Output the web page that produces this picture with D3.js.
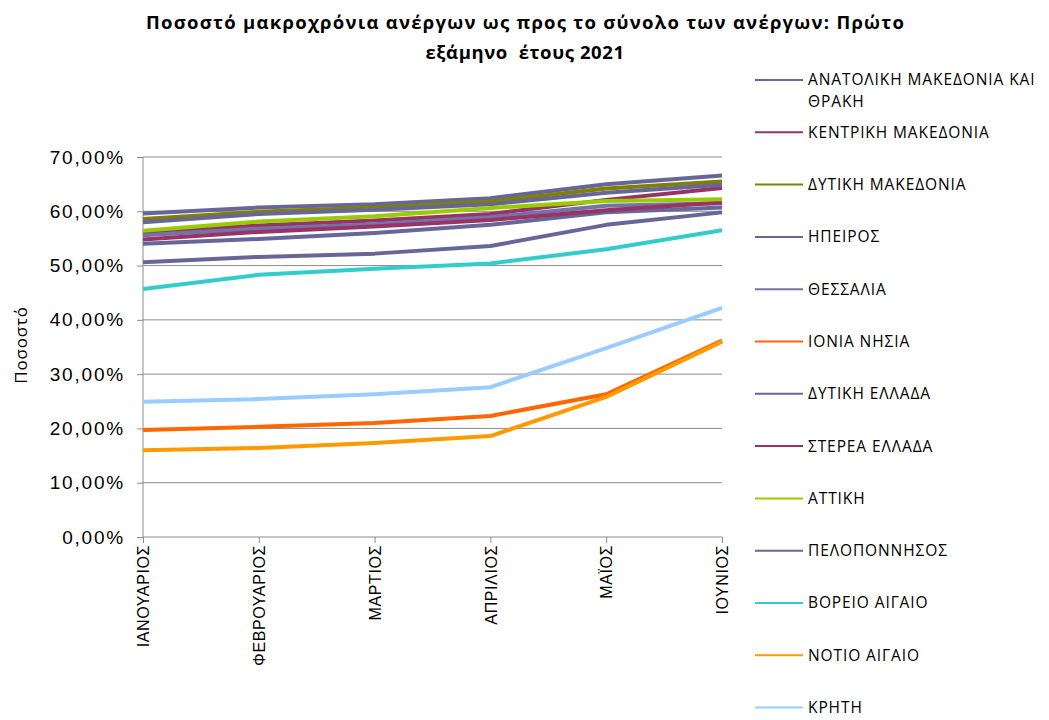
<!DOCTYPE html>
<html>
<head>
<meta charset="utf-8">
<script src="https://cdn.jsdelivr.net/npm/d3@7"></script>
<style>
  body { margin: 0; background: #fff; }
  svg { display: block; font-family: "Open Sans", "Noto Sans", sans-serif; }
</style>
</head>
<body>
<div id="chart"></div>
<script>
// Months (x categories)
const months = ["ΙΑΝΟΥΑΡΙΟΣ", "ΦΕΒΡΟΥΑΡΙΟΣ", "ΜΑΡΤΙΟΣ", "ΑΠΡΙΛΙΟΣ", "ΜΑΪΟΣ", "ΙΟΥΝΙΟΣ"];

// Regions, in legend order
const regions = [
  "ΑΝΑΤΟΛΙΚΗ ΜΑΚΕΔΟΝΙΑ ΚΑΙ ΘΡΑΚΗ", "ΚΕΝΤΡΙΚΗ ΜΑΚΕΔΟΝΙΑ", "ΔΥΤΙΚΗ ΜΑΚΕΔΟΝΙΑ",
  "ΗΠΕΙΡΟΣ", "ΘΕΣΣΑΛΙΑ", "ΙΟΝΙΑ ΝΗΣΙΑ", "ΔΥΤΙΚΗ ΕΛΛΑΔΑ", "ΣΤΕΡΕΑ ΕΛΛΑΔΑ",
  "ΑΤΤΙΚΗ", "ΠΕΛΟΠΟΝΝΗΣΟΣ", "ΒΟΡΕΙΟ ΑΙΓΑΙΟ", "ΝΟΤΙΟ ΑΙΓΑΙΟ", "ΚΡΗΤΗ"
];

// Percent values per region, Jan..Jun
const anatMakThraki = [59.6, 60.7, 61.3, 62.4, 65.0, 66.6];
const kentrikiMak   = [56.0, 57.4, 58.3, 59.5, 62.1, 64.3];
const dytikiMak     = [58.6, 59.9, 60.7, 61.8, 64.2, 65.5];
const ipeiros       = [58.0, 59.5, 60.3, 61.3, 63.4, 64.9];
const thessalia     = [55.6, 56.8, 57.6, 58.9, 61.0, 61.5];
const ioniaNisia    = [19.7, 20.3, 21.0, 22.3, 26.3, 36.2];
const dytikiEllada  = [54.0, 54.9, 56.0, 57.5, 59.8, 60.7];
const stereaEllada  = [54.8, 56.2, 57.2, 58.4, 60.2, 61.6];
const attiki        = [56.4, 58.1, 59.1, 60.6, 61.9, 62.2];
const peloponnisos  = [50.6, 51.6, 52.2, 53.6, 57.5, 59.8];
const voreioAigaio  = [45.7, 48.3, 49.4, 50.4, 53.0, 56.5];
const notioAigaio   = [16.0, 16.4, 17.3, 18.6, 25.8, 36.0];
const kriti         = [24.9, 25.4, 26.3, 27.6, 34.8, 42.2];

const seriesValues = [
  anatMakThraki, kentrikiMak, dytikiMak, ipeiros, thessalia, ioniaNisia,
  dytikiEllada, stereaEllada, attiki, peloponnisos, voreioAigaio, notioAigaio, kriti
];

const colors = [
  "#666699", "#993366", "#808000", "#666699", "#7373a8", "#ff6600",
  "#666699", "#993366", "#99cc00", "#666699", "#33cccc", "#ff9900", "#99ccff"
];

const yTicks = [0, 10, 20, 30, 40, 50, 60, 70];

const width = 1049, height = 720;
const plot = { left: 143, right: 722, top: 157, bottom: 537 };

const svg = d3.select("#chart").append("svg")
  .attr("width", width)
  .attr("height", height);

// Title
svg.append("text")
  .attr("x", 525).attr("y", 29)
  .attr("text-anchor", "middle")
  .attr("textLength", 758).attr("lengthAdjust", "spacing")
  .style("font-size", "18.5px").style("font-weight", "bold")
  .text("Ποσοστό μακροχρόνια ανέργων ως προς το σύνολο των ανέργων: Πρώτο");
svg.append("text")
  .attr("x", 525).attr("y", 59)
  .attr("text-anchor", "middle")
  .style("font-size", "18.5px").style("font-weight", "bold")
  .style("letter-spacing", "0.6px")
  .style("white-space", "pre")
  .text("εξάμηνο  έτους 2021");

// Scales
const x = d3.scalePoint().domain(months).range([plot.left, plot.right]);
const y = d3.scaleLinear().domain([0, 70]).range([plot.bottom, plot.top]);

// Gridlines
svg.append("g")
  .selectAll("line")
  .data(yTicks.filter(d => d > 0))
  .join("line")
  .attr("x1", plot.left).attr("x2", plot.right)
  .attr("y1", d => y(d)).attr("y2", d => y(d))
  .attr("stroke", "#8c8c8c").attr("stroke-width", 1);

// Y axis
const yAxis = svg.append("g")
  .attr("transform", `translate(${plot.left},0)`)
  .call(d3.axisLeft(y).tickValues(yTicks).tickSize(6).tickPadding(12)
    .tickFormat(d => d3.format(".2f")(d).replace(".", ",") + "%"));
yAxis.select(".domain").attr("stroke", "#8c8c8c").attr("d", `M0,${plot.top}V${plot.bottom}`);
yAxis.selectAll(".tick line").attr("stroke", "#8c8c8c");
yAxis.selectAll(".tick text")
  .style("font-size", "19px").style("fill", "#000").style("letter-spacing", "1.8px");

// X axis
const xAxis = svg.append("g")
  .attr("transform", `translate(0,${plot.bottom})`)
  .call(d3.axisBottom(x).tickSize(6).tickPadding(8));
xAxis.select(".domain").attr("stroke", "#8c8c8c").attr("d", `M${plot.left},0H${plot.right}`);
xAxis.selectAll(".tick line").attr("stroke", "#8c8c8c");
xAxis.selectAll(".tick text")
  .attr("transform", "rotate(-90)")
  .attr("x", -8).attr("y", 0).attr("dy", "0.35em")
  .attr("text-anchor", "end")
  .style("font-size", "16px").style("fill", "#000").style("letter-spacing", "0.6px");

// Y title
svg.append("text")
  .attr("transform", `translate(27,${(plot.top + plot.bottom) / 2 - 2}) rotate(-90)`)
  .attr("text-anchor", "middle")
  .style("font-size", "17px").style("letter-spacing", "0.8px")
  .text("Ποσοστό");

// Lines
const line = d3.line()
  .x((d, i) => x(months[i]))
  .y(d => y(d));

svg.append("g")
  .selectAll("path")
  .data(seriesValues)
  .join("path")
  .attr("d", d => line(d))
  .attr("fill", "none")
  .attr("stroke", (d, i) => colors[i])
  .attr("stroke-width", 4)
  .attr("stroke-linejoin", "round");

// Legend
const legend = svg.append("g");
const legendTop = 80, legendStep = 52.3;
regions.forEach((name, i) => {
  const ly = legendTop + i * legendStep;
  const g = legend.append("g").attr("transform", `translate(755,${ly})`);
  g.append("line")
    .attr("x1", 0).attr("x2", 48)
    .attr("stroke", colors[i]).attr("stroke-width", 2);
  const t = g.append("text")
    .attr("x", 53).attr("y", 0).attr("dy", "0.35em")
    .style("font-size", "15.5px").style("letter-spacing", "0.9px");
  if (i === 0) {
    t.append("tspan").attr("x", 53).text("ΑΝΑΤΟΛΙΚΗ ΜΑΚΕΔΟΝΙΑ ΚΑΙ");
    t.append("tspan").attr("x", 53).attr("dy", "1.4em").text("ΘΡΑΚΗ");
  } else {
    t.text(name);
  }
});
</script>
</body>
</html>
